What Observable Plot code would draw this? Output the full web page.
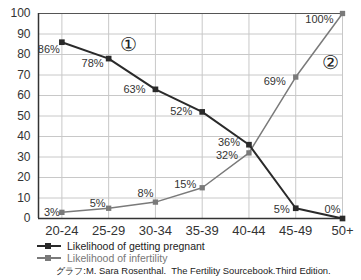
<!DOCTYPE html>
<html>
<head>
<meta charset="utf-8">
<script src="https://cdn.jsdelivr.net/npm/d3@7"></script>
<script src="https://cdn.jsdelivr.net/npm/@observablehq/plot@0.6"></script>
<style>
  body { margin: 0; background: #fff; font-family: "Liberation Sans", Arial, sans-serif; }
  #wrap { width: 361px; height: 280px; position: relative; overflow: hidden; }
  .leg { position: absolute; left: 37px; font-size: 10.5px; display: flex; align-items: center; }
  .sw { position: relative; width: 24px; height: 8px; margin-right: 6px; }
  .sw .ln { position: absolute; left: 0; right: 0; top: 3px; height: 2px; }
  .sw .sq { position: absolute; left: 8px; top: 1px; width: 6px; height: 6px; }
  #cap { position: absolute; left: 0; width: 361px; top: 265px; text-align: center; font-size: 9.4px; color: #222; padding-left: 26px; box-sizing: border-box; white-space: pre; }
</style>
</head>
<body>
<div id="wrap">
  <div id="chart"></div>
  <div class="leg" style="top:240px;color:#222"><div class="sw"><div class="ln" style="background:#2a2a2a"></div><div class="sq" style="background:#2a2a2a"></div></div><span id="l1"></span></div>
  <div class="leg" style="top:252px;color:#777"><div class="sw"><div class="ln" style="background:#7a7a7a;height:1.5px"></div><div class="sq" style="background:#7a7a7a"></div></div><span id="l2"></span></div>
  <div id="cap"></div>
</div>
<script>
const ageGroups = ["20-24", "25-29", "30-34", "35-39", "40-44", "45-49", "50+"];
const pregnant = [86, 78, 63, 52, 36, 5, 0];
const infertility = [3, 5, 8, 15, 32, 69, 100];
const seriesNames = ["Likelihood of getting pregnant", "Likelihood of infertility"];
const yTicks = [0, 10, 20, 30, 40, 50, 60, 70, 80, 90, 100];
const caption = "グラフ:M. Sara Rosenthal.  The Fertility Sourcebook.Third Edition.";

document.getElementById("l1").textContent = seriesNames[0];
document.getElementById("l2").textContent = seriesNames[1];
document.getElementById("cap").textContent = caption;

const preg = pregnant.map((v, i) => ({i, v}));
const inf = infertility.map((v, i) => ({i, v}));

// label offsets (style)
const pregOff = [[-2, 7], [-5, 5], [-10, 0], [-10, 0], [-9, -2], [-6, 1], [-2, -9]];
const infOff = [[-2, 0], [-3, -5], [-2, -9], [-6, -3], [-11, 3], [-10, 4], [-9, 6]];

const labelMarks = (data, offs) => data.map((d, k) => Plot.text([d], {
  x: "i", y: "v", text: d => d.v + "%", textAnchor: "end",
  dx: offs[k][0], dy: offs[k][1], fontSize: 11, fill: "#333",
  fontFamily: "Liberation Sans, Arial, sans-serif"
}));

const chart = Plot.plot({
  width: 361, height: 238,
  marginTop: 13, marginBottom: 20, marginLeft: 38, marginRight: 19,
  style: {fontFamily: "Liberation Sans, Arial, sans-serif", background: "#fff"},
  x: {domain: [-0.5, 6], axis: null},
  y: {domain: [0, 100], axis: null},
  marks: [
    Plot.ruleY(yTicks.filter(t => t > 0), {stroke: "#c8c8c8", strokeWidth: 1}),
    Plot.ruleX(ageGroups.map((_, i) => i), {stroke: "#c8c8c8", strokeWidth: 1}),
    Plot.ruleY([100], {stroke: "#555", strokeWidth: 1}),
    Plot.ruleY([0], {stroke: "#333", strokeWidth: 1.5}),
    Plot.ruleX([-0.5], {stroke: "#333", strokeWidth: 1.5}),
    Plot.text(yTicks, {x: -0.5, y: d => d, text: d => String(d), textAnchor: "end", dx: -8, fontSize: 12, fill: "#333"}),
    Plot.text(ageGroups.map((g, i) => ({g, i})), {x: "i", y: 0, text: "g", dy: 12, fontSize: 13, fill: "#333"}),
    Plot.line(inf, {x: "i", y: "v", stroke: "#7a7a7a", strokeWidth: 1.5}),
    Plot.dot(inf, {x: "i", y: "v", symbol: "square", r: 3, fill: "#7a7a7a"}),
    Plot.line(preg, {x: "i", y: "v", stroke: "#2a2a2a", strokeWidth: 2}),
    Plot.dot(preg, {x: "i", y: "v", symbol: "square", r: 3.2, fill: "#2a2a2a"}),
    ...labelMarks(preg, pregOff),
    ...labelMarks(inf, infOff),
    Plot.text([preg[1]], {x: "i", y: "v", text: () => "①", dx: 20, dy: -14, fontSize: 19, fill: "#222", fontFamily: "DejaVu Serif, serif"}),
    Plot.text([inf[5]], {x: "i", y: "v", text: () => "②", dx: 35, dy: -14, fontSize: 19, fill: "#222", fontFamily: "DejaVu Serif, serif"})
  ]
});
document.getElementById("chart").appendChild(chart);
</script>
</body>
</html>
